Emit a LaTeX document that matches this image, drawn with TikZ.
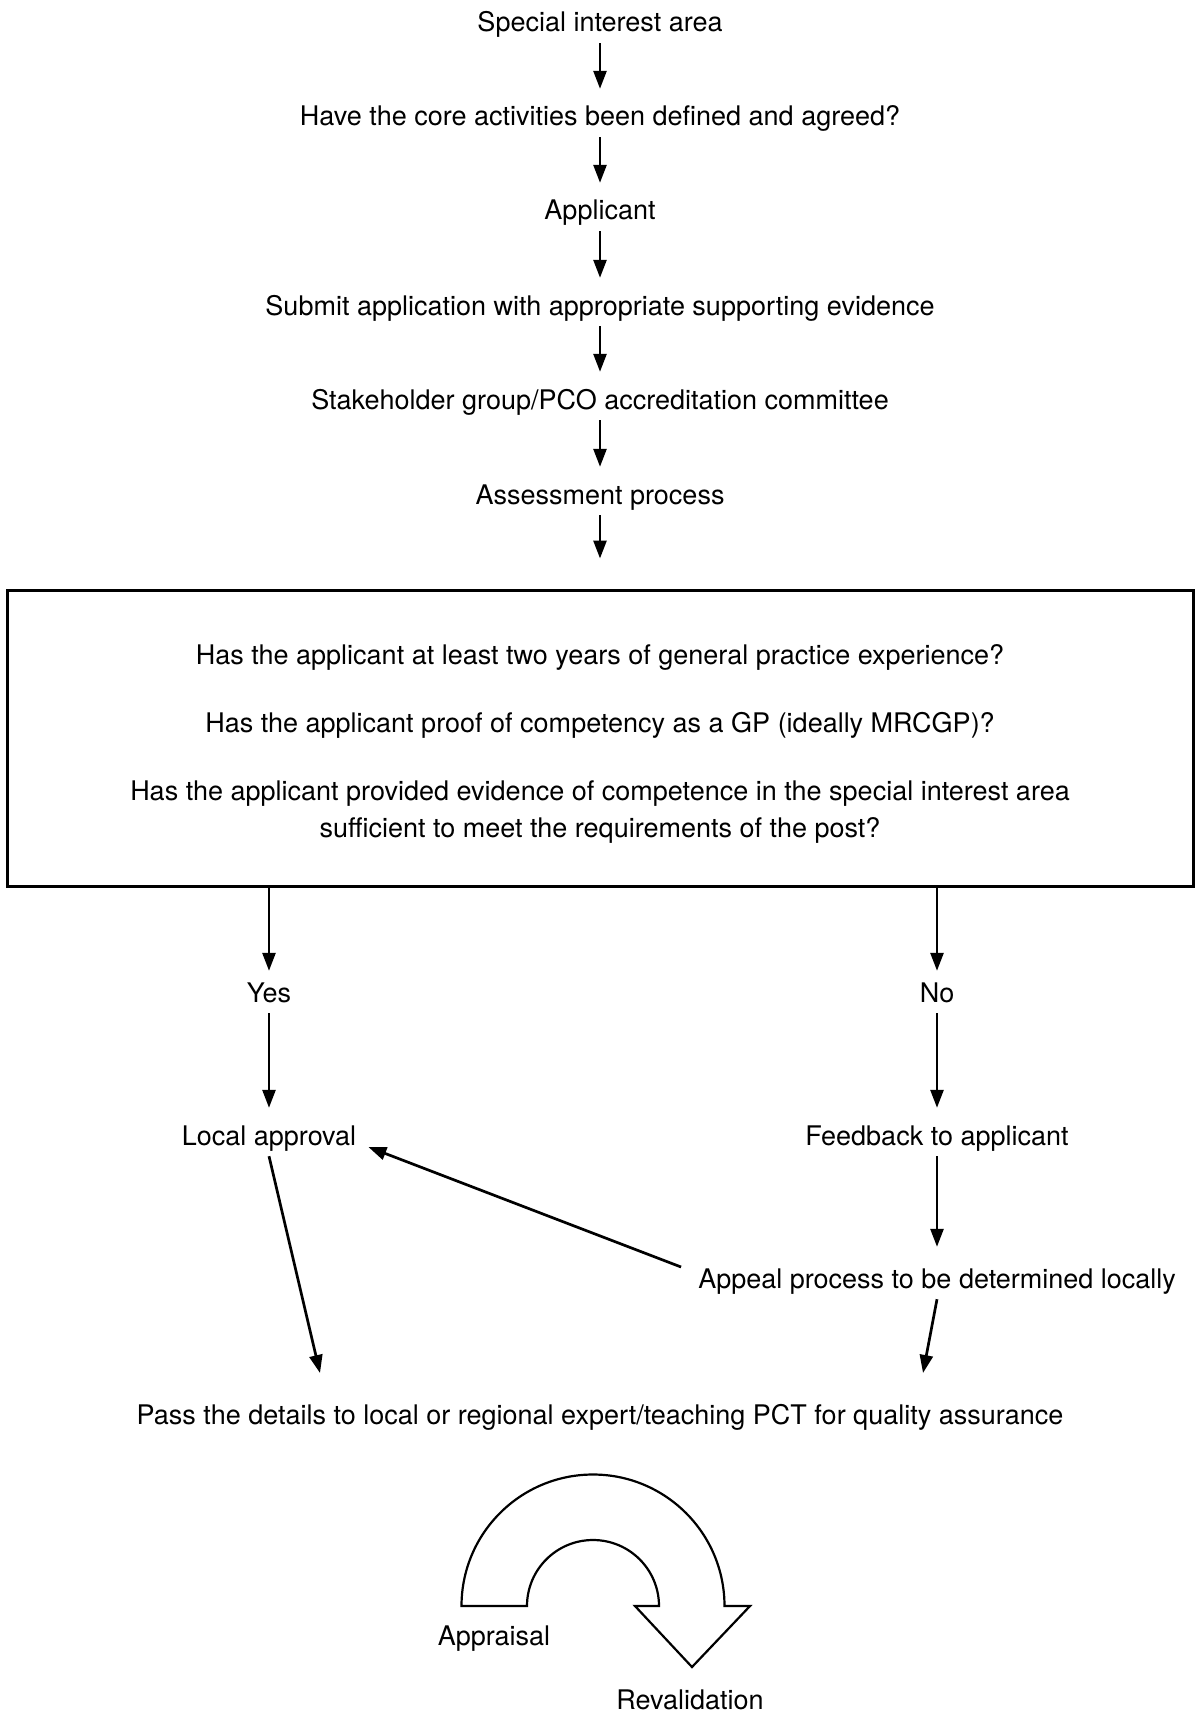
\documentclass[tikz,border=0pt]{standalone}
\usepackage{fontspec}
\setmainfont{TeX Gyre Heros}
\usetikzlibrary{arrows.meta}
\begin{document}
\begin{tikzpicture}[x=1pt,y=1pt,
  txt/.style={inner xsep=12pt, inner ysep=8.5pt, text height=22.5pt, text depth=2.5pt, font=\fontsize{27}{37}\selectfont},
  arr/.style={line width=2.7pt, -{Triangle[length=18pt,width=13pt]}},
  qbox/.style={draw, line width=3pt, minimum width=1186pt, minimum height=296pt, align=center, font=\fontsize{27}{37}\selectfont},
  uarrow/.style={draw, line width=2.2pt, fill=white, line join=miter}
]
\path[use as bounding box, fill=white] (0,0) rectangle (1198,-1712);

\node[txt] (s1) at (600,-22) {Special interest area};
\node[txt] (s2) at (600,-116) {Have the core activities been defined and agreed?};
\node[txt] (s3) at (600,-210) {Applicant};
\node[txt] (s4) at (600,-305) {Submit application with appropriate supporting evidence};
\node[txt] (s5) at (600,-399) {Stakeholder group/PCO accreditation committee};
\node[txt] (s6) at (600,-494) {Assessment process};

\node[qbox] (q) at (600,-738) {\rule{0pt}{31.5pt}Has the applicant at least two years of general practice experience?\\[31pt]
Has the applicant proof of competency as a GP (ideally MRCGP)?\\[31pt]
Has the applicant provided evidence of competence in the special interest area\\
sufficient to meet the requirements of the post?};

\node[txt] (yes) at (269,-992) {Yes};
\node[txt] (no) at (937,-992) {No};
\node[txt] (la) at (269,-1135) {Local approval};
\node[txt] (fb) at (937,-1135) {Feedback to applicant};
\node[txt] (ap) at (937,-1278) {Appeal process to be determined locally};
\node[txt] (pass) at (600,-1414) {Pass the details to local or regional expert/teaching PCT for quality assurance};
\coordinate (pL) at (320,-1373);
\coordinate (pR) at (923,-1373);

\draw[arr, shorten >=6pt] (s1.south) -- (s2.north);
\draw[arr, shorten >=6pt] (s2.south) -- (s3.north);
\draw[arr, shorten >=6pt] (s3.south) -- (s4.north);
\draw[arr, shorten >=6pt] (s4.south) -- (s5.north);
\draw[arr, shorten >=6pt] (s5.south) -- (s6.north);
\draw[arr, shorten >=30pt] (s6.south) -- (q.north);

\draw[arr] (q.south -| yes.north) -- (yes.north);
\draw[arr] (q.south -| no.north) -- (no.north);
\draw[arr, shorten >=6pt] (yes.south) -- (la.north);
\draw[arr, shorten >=6pt] (no.south) -- (fb.north);
\draw[arr, shorten >=10pt] (fb.south) -- (ap.north);
\draw[arr] ([shift={(-5,11)}]ap.west) -- ([shift={(0,-12)}]la.east);
\draw[arr] (la.south) -- (pL);
\draw[arr] (ap.south) -- (pR);

\path[uarrow] (461.5,-1606) arc[start angle=180, end angle=0, radius=131.5]
  -- (750,-1606) -- (692,-1667) -- (635,-1606) -- (659,-1606)
  arc[start angle=0, end angle=180, radius=66] -- cycle;
\node[txt] (appr) at (494,-1635) {Appraisal};
\node[txt] (reval) at (690,-1699) {Revalidation};
\end{tikzpicture}
\end{document}
